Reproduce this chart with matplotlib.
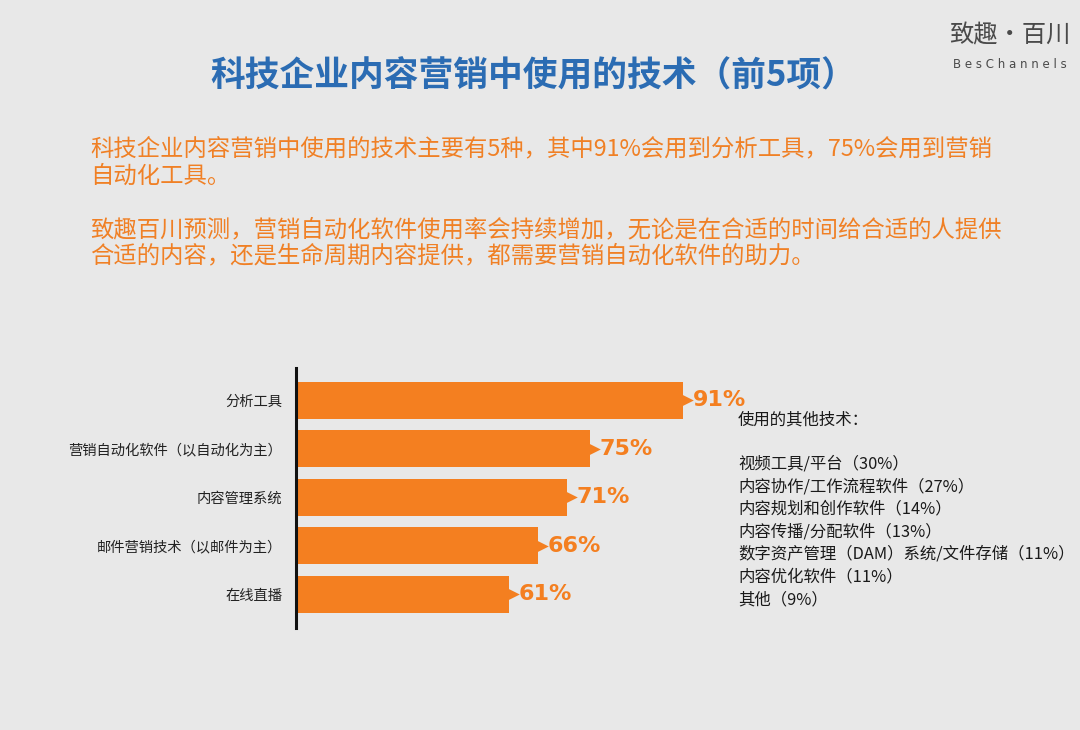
import matplotlib
matplotlib.use("Agg")
import matplotlib.pyplot as plt

plt.rcParams['font.family'] = ['Noto Sans CJK SC', 'DejaVu Sans']

categories = ["分析工具", "营销自动化软件（以自动化为主）", "内容管理系统", "邮件营销技术（以邮件为主）", "在线直播"]
values = [91, 75, 71, 66, 61]
value_labels = ["91%", "75%", "71%", "66%", "61%"]

title = "科技企业内容营销中使用的技术（前5项）"
para_lines = [
    "科技企业内容营销中使用的技术主要有5种，其中91%会用到分析工具，75%会用到营销",
    "自动化工具。",
    "致趣百川预测，营销自动化软件使用率会持续增加，无论是在合适的时间给合适的人提供",
    "合适的内容，还是生命周期内容提供，都需要营销自动化软件的助力。",
]
other_title = "使用的其他技术："
other_items = [
    "视频工具/平台（30%）",
    "内容协作/工作流程软件（27%）",
    "内容规划和创作软件（14%）",
    "内容传播/分配软件（13%）",
    "数字资产管理（DAM）系统/文件存储（11%）",
    "内容优化软件（11%）",
    "其他（9%）",
]

BG = "#E8E8E8"
ORANGE = "#F47F20"
ORANGE_TXT = "#F08025"
BLUE = "#2B6CB3"

W, H = 1080, 730
fig = plt.figure(figsize=(W / 100, H / 100), dpi=100, facecolor=BG)

def fx(px):
    return px / W

def fy(py):
    return 1 - py / H

# Title
fig.text(fx(210), fy(76), title, ha="left", va="center", fontsize=25,
         fontweight="bold", color=BLUE)

# Logo
fig.text(fx(1010), fy(35), "致趣·百川", ha="center", va="center", fontsize=17.5,
         color="#4A4A4A")
fig.text(fx(1010), fy(65), "B e s C h a n n e l s", ha="center", va="center",
         fontsize=8.5, color="#4A4A4A", family="DejaVu Sans")

# Paragraph
para_y = [149, 176, 230, 256]
for line, yy in zip(para_lines, para_y):
    fig.text(fx(90), fy(yy), line, ha="left", va="center", fontsize=16.8,
             color=ORANGE_TXT)

# Bar chart
ax = fig.add_axes([fx(296), fy(628), fx(734) - fx(296), fy(368) - fy(628)])
ax.set_facecolor(BG)
pos = list(range(len(categories)))
ax.barh(pos, values, height=0.76, color=ORANGE, zorder=2)
ax.scatter(values, pos, marker=">", s=220, color=ORANGE, linewidths=0, zorder=3)
for p, v, lab in zip(pos, values, value_labels):
    ax.text(v + 1.7, p, lab, ha="left", va="center", fontsize=16,
            fontweight="bold", color=ORANGE, family="DejaVu Sans")
ax.set_xlim(24.3, 99.8)
ax.set_ylim(4.69, -0.66)
ax.set_yticks(pos)
ax.set_yticklabels(categories, fontsize=10.3, color="#222222")
ax.tick_params(axis="y", length=0, pad=10)
ax.set_xticks([])
for s in ["top", "right", "bottom"]:
    ax.spines[s].set_visible(False)
ax.spines["left"].set_linewidth(2.2)
ax.spines["left"].set_color("#111111")

# Other technologies list
fig.text(fx(738), fy(420), other_title, ha="left", va="center", fontsize=11.8,
         color="#1A1A1A")
for i, item in enumerate(other_items):
    fig.text(fx(738), fy(464 + i * 22.6), item, ha="left", va="center",
             fontsize=11.8, color="#1A1A1A")

fig.savefig("out.png", dpi=100, facecolor=BG)
